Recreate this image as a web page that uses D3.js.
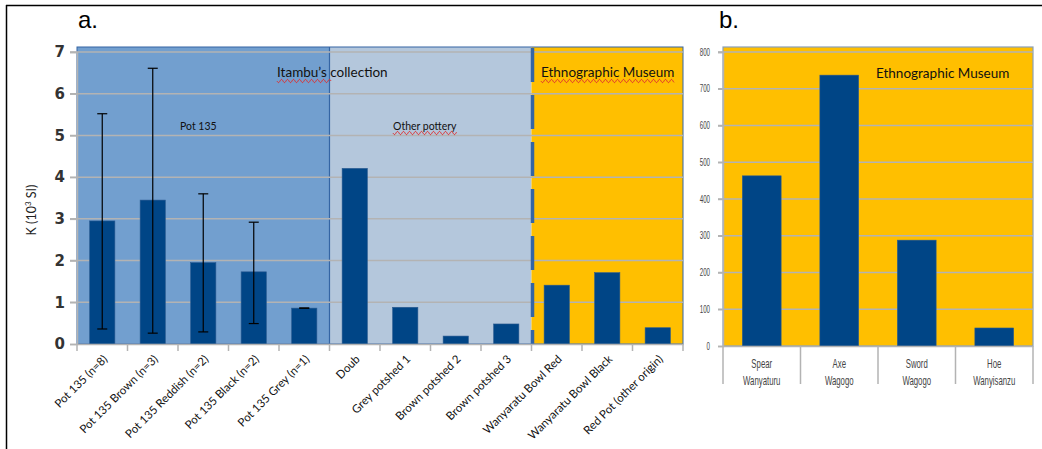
<!DOCTYPE html>
<html>
<head>
<meta charset="utf-8">
<script src="https://cdn.jsdelivr.net/npm/d3@7"></script>
<style>
  body { margin: 0; background: #fff; }
  svg { display: block; }
</style>
</head>
<body>
<svg id="fig" width="1042" height="449"></svg>
<script>
// panel a data
const catsA = ["Pot 135 (n=8)", "Pot 135 Brown  (n=3)", "Pot 135 Reddish (n=2)", "Pot 135 Black (n=2)",
  "Pot 135 Grey (n=1)", "Doub", "Grey potshed 1", "Brown potshed 2", "Brown potshed 3",
  "Wanyaratu Bowl Red", "Wanyaratu Bowl Black", "Red Pot (other origin)"];
const valsA = [2.95, 3.45, 1.95, 1.73, 0.86, 4.21, 0.88, 0.19, 0.48, 1.41, 1.71, 0.39];
const errHi = [5.52, 6.61, 3.6, 2.92, 0.86, null, null, null, null, null, null, null];
const errLo = [0.36, 0.26, 0.29, 0.49, 0.86, null, null, null, null, null, null, null];
const ticksA = [0, 1, 2, 3, 4, 5, 6, 7];

// panel b data
const catsB = [["Spear", "Wanyaturu"], ["Axe", "Wagogo"], ["Sword", "Wagogo"], ["Hoe", "Wanyisanzu"]];
const valsB = [463, 737, 288, 49];
const ticksB = [0, 100, 200, 300, 400, 500, 600, 700, 800];

const svg = d3.select("#fig");
const barCol = "#004586";
const gridCol = "#b3b3b3";
const calibri = "Lato, 'Open Sans', sans-serif";
const narrow = "'Liberation Sans', sans-serif";

// outer frame
svg.append("line").attr("x1", 6).attr("x2", 1042).attr("y1", 5.5).attr("y2", 5.5).attr("stroke", "#000").attr("stroke-width", 1.5);
svg.append("line").attr("x1", 6.5).attr("x2", 6.5).attr("y1", 5).attr("y2", 449).attr("stroke", "#000").attr("stroke-width", 1.5);

// panel letters
svg.append("text").attr("x", 78).attr("y", 28).text("a.")
  .style("font-family", "'Liberation Sans', sans-serif").style("font-size", "24px");
svg.append("text").attr("x", 719).attr("y", 28).text("b.")
  .style("font-family", "'Liberation Sans', sans-serif").style("font-size", "24px");

// ---------- panel a ----------
const xA = d3.scaleBand().domain(catsA).range([77, 683]).paddingInner(0.5).paddingOuter(0.25);
const yA = d3.scaleLinear().domain([0, 7]).range([344, 52]);
const gA = svg.append("g");

const zones = [
  { from: 0, to: 5, fill: "#729fcf" },
  { from: 5, to: 9, fill: "#b4c7dc" },
  { from: 9, to: 12, fill: "#ffbf00" }
];
const step = xA.step();
const x0 = 77;
gA.selectAll("rect.zone").data(zones).enter().append("rect")
  .attr("x", d => x0 + d.from * step)
  .attr("width", d => (d.to - d.from) * step)
  .attr("y", 47).attr("height", 344 - 47)
  .attr("fill", d => d.fill);
gA.append("rect").attr("x", 77).attr("y", 47).attr("width", 12 * step).attr("height", 297)
  .attr("fill", "none").attr("stroke", "#3465a4").attr("stroke-width", 1);
gA.append("line").attr("x1", x0 + 5 * step).attr("x2", x0 + 5 * step).attr("y1", 47).attr("y2", 344)
  .attr("stroke", "#3465a4").attr("stroke-width", 1.2);

// gridlines
gA.selectAll("line.grid").data(ticksA.slice(1)).enter().append("line")
  .attr("x1", 70).attr("x2", 683).attr("y1", d => yA(d)).attr("y2", d => yA(d))
  .attr("stroke", gridCol).attr("stroke-width", 1.5);

// dashed separator
gA.append("line").attr("x1", x0 + 9 * step + 1).attr("x2", x0 + 9 * step + 1).attr("y1", 48).attr("y2", 345)
  .attr("stroke", "#3465a4").attr("stroke-width", 3.5).attr("stroke-dasharray", "34,13");

// bars
gA.selectAll("rect.bar").data(valsA).enter().append("rect")
  .attr("x", (d, i) => xA(catsA[i]))
  .attr("width", xA.bandwidth())
  .attr("y", d => yA(d))
  .attr("height", d => yA(0) - yA(d))
  .attr("fill", barCol).attr("stroke", "#2a5a90").attr("stroke-width", 0.6);

// error bars
const errs = valsA.map((v, i) => ({ i, hi: errHi[i], lo: errLo[i] })).filter(d => d.hi !== null);
const eg = gA.selectAll("g.err").data(errs).enter().append("g")
  .attr("transform", d => `translate(${xA(catsA[d.i]) + xA.bandwidth() / 2},0)`);
eg.append("line").attr("y1", d => yA(d.hi)).attr("y2", d => yA(d.lo)).attr("stroke", "#000").attr("stroke-width", 1.2);
eg.append("line").attr("x1", -5).attr("x2", 5).attr("y1", d => yA(d.hi)).attr("y2", d => yA(d.hi)).attr("stroke", "#000").attr("stroke-width", 1.2);
eg.append("line").attr("x1", -5).attr("x2", 5).attr("y1", d => yA(d.lo)).attr("y2", d => yA(d.lo)).attr("stroke", "#000").attr("stroke-width", 1.2);

// axes
const axA = gA.append("g").attr("transform", "translate(77,0)")
  .call(d3.axisLeft(yA).tickValues(ticksA).tickFormat(d3.format("d")).tickSize(7).tickPadding(5));
axA.select(".domain").attr("stroke", gridCol).attr("stroke-width", 1.5);
axA.selectAll(".tick line").attr("stroke", gridCol).attr("stroke-width", 1.5);
axA.selectAll(".tick text").style("font-family", "'DejaVu Sans', sans-serif").style("font-size", "15px")
  .style("font-weight", "bold").attr("fill", "#333");

const bxA = gA.append("g").attr("transform", "translate(0,344)")
  .call(d3.axisBottom(xA).tickSize(0).tickFormat(""));
bxA.select(".domain").attr("stroke", gridCol).attr("stroke-width", 1.5);
gA.selectAll("line.xt").data(d3.range(13)).enter().append("line")
  .attr("x1", d => x0 + d * step).attr("x2", d => x0 + d * step).attr("y1", 344).attr("y2", 351)
  .attr("stroke", gridCol).attr("stroke-width", 1.5);

gA.selectAll("text.xl").data(catsA).enter().append("text")
  .attr("transform", d => `translate(${xA(d) + xA.bandwidth() / 2 + 3},357) rotate(-45)`)
  .attr("text-anchor", "end").attr("dy", "0.35em")
  .style("font-family", calibri).style("font-size", "11.5px").attr("fill", "#111")
  .text(d => d);

// y label
svg.append("text").attr("transform", "translate(36,210) rotate(-90)").attr("text-anchor", "middle")
  .style("font-family", calibri).style("font-size", "12.5px").attr("fill", "#222")
  .html("K (10<tspan dy='-5' font-size='8'>3</tspan><tspan dy='5'> SI)</tspan>");

// annotations with wavy underlines
function wavy(x, y, w) {
  const pts = [];
  for (let t = 0; t <= w; t += 0.5) pts.push([x + t, y + 1.6 * Math.sin(t / 6 * Math.PI * 2)]);
  svg.append("path").attr("d", d3.line()(pts)).attr("fill", "none").attr("stroke", "#e03030").attr("stroke-width", 1);
}
svg.append("text").attr("x", 277).attr("y", 77).style("font-family", calibri).style("font-size", "13.5px").attr("fill", "#111").text("Itambu\u2019s collection");
const t2 = svg.append("text").attr("x", 393).attr("y", 130).style("font-family", calibri).style("font-size", "10.5px").attr("fill", "#111").text("Other pottery");
svg.append("text").attr("x", 180).attr("y", 130).style("font-family", calibri).style("font-size", "10.5px").attr("fill", "#111").text("Pot 135");
const t3 = svg.append("text").attr("x", 541).attr("y", 77).style("font-family", calibri).style("font-size", "13.5px").attr("fill", "#111").text("Ethnographic Museum");
wavy(277, 81, 54);
wavy(393, 133, t2.node().getComputedTextLength());
wavy(541, 81, t3.node().getComputedTextLength());

// ---------- panel b ----------
const xB = d3.scaleBand().domain(d3.range(catsB.length)).range([723, 1033]).paddingInner(0.5).paddingOuter(0.25);
const yB = d3.scaleLinear().domain([0, 800]).range([346, 52]);
const gB = svg.append("g");

gB.append("rect").attr("x", 723).attr("y", 47).attr("width", 310).attr("height", 299)
  .attr("fill", "#ffbf00").attr("stroke", "#8aa0b8").attr("stroke-width", 1.2);
gB.selectAll("line.grid").data(ticksB.slice(1)).enter().append("line")
  .attr("x1", 718).attr("x2", 1033).attr("y1", d => yB(d)).attr("y2", d => yB(d))
  .attr("stroke", gridCol).attr("stroke-width", 1.5);

gB.selectAll("rect.bar").data(valsB).enter().append("rect")
  .attr("x", (d, i) => xB(i)).attr("width", xB.bandwidth())
  .attr("y", d => yB(d)).attr("height", d => yB(0) - yB(d))
  .attr("fill", barCol).attr("stroke", "#2a5a90").attr("stroke-width", 0.6);

const axB = gB.append("g").attr("transform", "translate(723,0)")
  .call(d3.axisLeft(yB).tickValues(ticksB).tickSize(5).tickPadding(3));
axB.select(".domain").attr("stroke", gridCol).attr("stroke-width", 1.5);
axB.selectAll(".tick line").attr("stroke", gridCol).attr("stroke-width", 1.5);
axB.selectAll(".tick text").style("font-family", narrow)
  .style("font-size", "10px").attr("fill", "#444")
  .attr("transform", "translate(-8,0) scale(0.62,1)");

gB.append("line").attr("x1", 723).attr("x2", 1033).attr("y1", 346.5).attr("y2", 346.5).attr("stroke", gridCol).attr("stroke-width", 1.5);
const stepB = xB.step();
gB.selectAll("line.xt").data(d3.range(5)).enter().append("line")
  .attr("x1", d => 723 + d * stepB).attr("x2", d => 723 + d * stepB).attr("y1", 346).attr("y2", 384)
  .attr("stroke", gridCol).attr("stroke-width", 1.5);
const lb = gB.selectAll("g.xl").data(catsB).enter().append("g")
  .attr("transform", (d, i) => `translate(${xB(i) + xB.bandwidth() / 2},0) scale(0.65,1)`)
  .append("text")
  .attr("text-anchor", "middle")
  .style("font-family", narrow)
  .style("font-size", "12px").attr("fill", "#444");
lb.append("tspan").attr("x", 0).attr("y", 368).text(d => d[0]);
lb.append("tspan").attr("x", 0).attr("y", 385).text(d => d[1]);

svg.append("text").attr("x", 876).attr("y", 78).style("font-family", calibri).style("font-size", "13.5px").attr("fill", "#111").text("Ethnographic Museum");
</script>
</body>
</html>
